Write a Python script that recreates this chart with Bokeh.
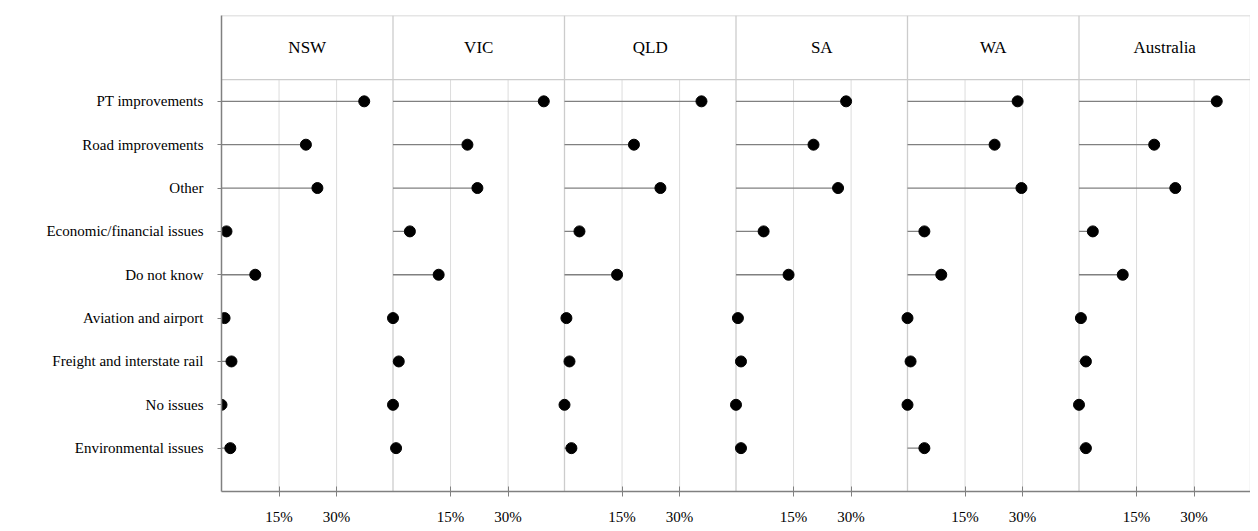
from bokeh.plotting import figure
from bokeh.models import Range1d, FixedTicker
from bokeh.core.properties import value
from bokeh.embed import file_html
from bokeh.resources import INLINE

regions = ["NSW", "VIC", "QLD", "SA", "WA", "Australia"]
issues = ["PT improvements", "Road improvements", "Other", "Economic/financial issues",
          "Do not know", "Aviation and airport", "Freight and interstate rail",
          "No issues", "Environmental issues"]
values = {
    "NSW":       [37.2, 22.0, 25.0, 1.3, 8.8, 0.8, 2.6, 0.0, 2.3],
    "VIC":       [39.3, 19.4, 22.0, 4.4, 11.9, 0.0, 1.5, 0.0, 0.8],
    "QLD":       [35.7, 18.1, 25.0, 3.9, 13.7, 0.5, 1.3, 0.0, 1.8],
    "SA":        [28.7, 20.2, 26.6, 7.2, 13.7, 0.5, 1.3, 0.0, 1.3],
    "WA":        [28.7, 22.7, 29.7, 4.4, 8.8, 0.0, 0.8, 0.0, 4.4],
    "Australia": [35.9, 19.6, 25.1, 3.6, 11.4, 0.5, 1.8, 0.0, 1.8],
}
tick_vals = [15, 30]

W = 44.7
FONT = "Liberation Serif"
n = len(regions)
p = figure(width=1250, height=527, output_backend="svg", toolbar_location=None,
           x_range=Range1d(0, n * W), y_range=Range1d(9.0, -1.98),
           min_border_left=221, min_border_top=15, min_border_right=0, min_border_bottom=20)
p.outline_line_color = None
p.grid.visible = False

grid_c = "#dcdcdc"
gx = [k * W + t for k in range(n) for t in tick_vals]
p.segment(x0=gx, y0=[-0.5] * len(gx), x1=gx, y1=[9.0] * len(gx), line_color=grid_c, line_width=1)
sx = [k * W for k in range(1, n)] + [n * W]
p.segment(x0=sx, y0=[-1.98] * len(sx), x1=sx, y1=[9.0] * len(sx), line_color="#cccccc", line_width=1.3)
p.segment(x0=[0, 0], y0=[-1.98, -0.5], x1=[n * W, n * W], y1=[-1.98, -0.5], line_color="#cccccc", line_width=1.3)
p.text(x=[k * W + W / 2 for k in range(n)], y=[-1.24] * n, text=regions, text_align="center",
       text_baseline="middle", text_font=value(FONT), text_font_size="17px", text_color="black")

xs0, xs1, ys = [], [], []
for k, r in enumerate(regions):
    for i, v in enumerate(values[r]):
        xs0.append(k * W)
        xs1.append(k * W + v)
        ys.append(i)
p.segment(x0=xs0, y0=ys, x1=xs1, y1=ys, line_color="#808080", line_width=1.3)
p.scatter(x=xs1, y=ys, size=11, color="black")

p.xaxis.ticker = FixedTicker(ticks=gx)
p.xaxis.major_label_overrides = {x: f"{t}%" for x, t in zip(gx, tick_vals * n)}
p.xaxis.minor_tick_line_color = None
p.xaxis.major_tick_in = 5
p.xaxis.major_tick_out = 5
p.xaxis.major_label_standoff = 12
p.yaxis.ticker = FixedTicker(ticks=list(range(len(issues))))
p.yaxis.major_label_overrides = {i: s for i, s in enumerate(issues)}
p.yaxis.minor_tick_line_color = None
p.yaxis.major_tick_in = 0
p.yaxis.major_tick_out = 4
p.yaxis.major_label_standoff = 14
for ax in (p.xaxis, p.yaxis):
    ax.axis_line_color = "#808080"
    ax.major_tick_line_color = "#808080"
    ax.axis_line_width = 1.5
    ax.major_label_text_font = FONT
    ax.major_label_text_font_size = "15px"
    ax.major_label_text_color = "black"

open("out.html", "w").write(file_html(p, INLINE))
